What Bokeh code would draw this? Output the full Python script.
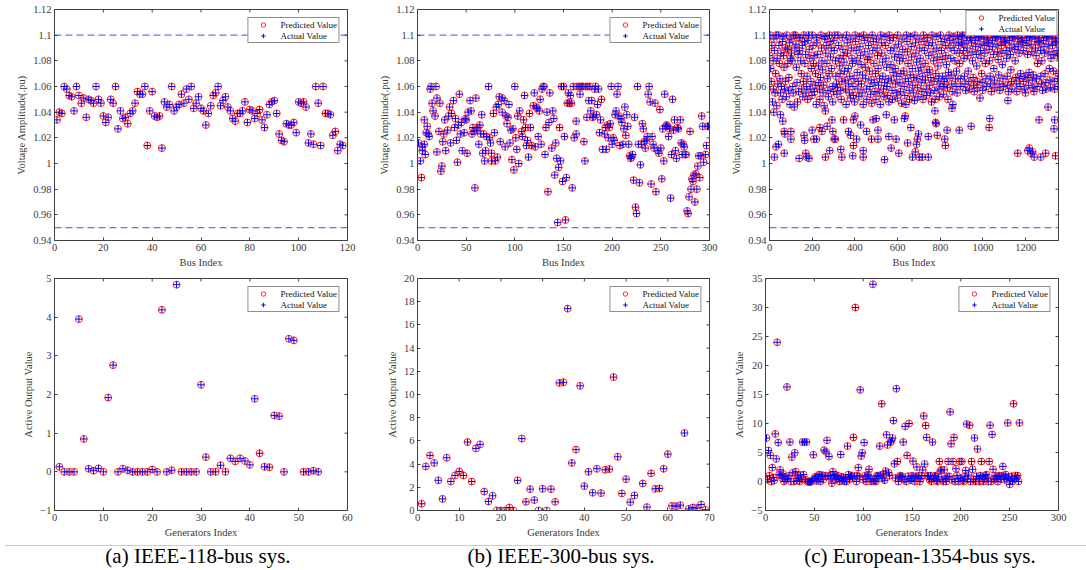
import math
from bokeh.plotting import figure
from bokeh.models import Range1d, FixedTicker, Span, NumeralTickFormatter, Div
from bokeh.layouts import column, row
from bokeh.embed import file_html
from bokeh.resources import INLINE

FONT = "Liberation Serif"
TXT = "#3a3a3a"
LINE = "#404040"
RED = "#ff2a2a"
BLUE = "#0000ff"

# ---------------- data ----------------
V_MAX = 1.1
V_MIN = 0.95

# (a) IEEE-118 bus voltage (bus 1..118)
a_vm = [1.034, 1.040, 1.039, 1.060, 1.058, 1.053, 1.052, 1.041, 1.060, 1.053,
        1.047, 1.051, 1.036, 1.050, 1.049, 1.047, 1.060, 1.050, 1.047, 1.037,
        1.032, 1.036, 1.050, 1.047, 1.060, 1.027, 1.041, 1.035, 1.036, 1.031,
        1.039, 1.041, 1.047, 1.056, 1.054, 1.054, 1.060, 1.014, 1.041, 1.056,
        1.037, 1.036, 1.037, 1.012, 1.048, 1.044, 1.046, 1.060, 1.041, 1.044,
        1.046, 1.054, 1.047, 1.058, 1.050, 1.060, 1.043, 1.047, 1.052, 1.043,
        1.041, 1.030, 1.039, 1.045, 1.053, 1.055, 1.060, 1.045, 1.049, 1.052,
        1.044, 1.041, 1.035, 1.033, 1.039, 1.039, 1.041, 1.048, 1.032, 1.042,
        1.041, 1.035, 1.039, 1.042, 1.034, 1.028, 1.038, 1.046, 1.048, 1.049,
        1.039, 1.023, 1.018, 1.017, 1.031, 1.030, 1.030, 1.032, 1.024, 1.048,
        1.047, 1.048, 1.044, 1.016, 1.023, 1.015, 1.060, 1.047, 1.014, 1.060,
        1.039, 1.039, 1.038, 1.022, 1.025, 1.010, 1.015, 1.014]
a_bus = list(range(1, len(a_vm) + 1))

# (a) IEEE-118 generator output
a_gen = list(range(1, 50)) + [51, 52, 53, 54]
a_pg = [0.13, 0, 0, 0, 3.95, 0.85, 0.08, 0.03, 0.09, 0,
        1.92, 2.76, 0, 0.08, 0.04, 0, 0, 0, 0, 0.06,
        0, 4.19, 0, 0.04, 4.84, 0, 0, 0, 0, 2.25,
        0.38, 0, 0, 0.17, 0, 0.35, 0.27, 0.35, 0.28, 0.18,
        1.89, 0.48, 0.13, 0.12, 1.46, 1.44, 0, 3.44, 3.40,
        0, 0, 0.03, 0]

# (b) IEEE-300 bus voltage
b_bus = [1, 3, 4, 5, 5, 7, 7, 8, 9, 10, 11, 12, 13, 14, 15, 16, 18, 19, 20, 20,
         22, 23, 24, 25, 26, 27, 28, 29, 31, 32, 33, 34, 35, 37, 38, 39, 40, 41, 42, 43,
         44, 45, 46, 48, 49, 50, 51, 52, 54, 55, 56, 57, 58, 59, 60, 61, 62, 63, 64, 65,
         66, 67, 68, 69, 70, 71, 73, 74, 75, 76, 76, 78, 79, 80, 81, 82, 83, 84, 85, 87,
         87, 89, 90, 91, 92, 93, 94, 95, 96, 97, 98, 99, 100, 101, 102, 103, 104, 105, 107, 108,
         109, 110, 111, 112, 113, 114, 115, 116, 117, 119, 120, 121, 122, 123, 124, 125, 126, 127, 128, 129,
         130, 131, 132, 133, 134, 135, 136, 138, 139, 140, 141, 142, 143, 144, 145, 146, 147, 148, 149, 150,
         151, 152, 153, 154, 155, 156, 157, 158, 159, 160, 161, 163, 163, 164, 166, 167, 168, 169, 170, 171,
         172, 173, 174, 175, 176, 177, 178, 179, 180, 181, 182, 183, 184, 185, 186, 187, 188, 189, 190, 192,
         193, 194, 195, 196, 197, 198, 199, 200, 201, 202, 203, 204, 205, 206, 207, 208, 209, 210, 211, 212,
         213, 214, 215, 216, 217, 218, 219, 220, 221, 222, 223, 224, 225, 226, 227, 228, 229, 230, 231, 232,
         233, 234, 235, 236, 237, 238, 239, 240, 241, 242, 243, 244, 245, 247, 248, 249, 250, 251, 252, 253,
         254, 255, 256, 257, 258, 259, 260, 261, 262, 263, 264, 265, 266, 267, 268, 270, 271, 272, 273, 274,
         275, 276, 277, 278, 279, 280, 281, 282, 283, 284, 285, 286, 287, 288, 289, 290, 291, 292, 293, 294,
         296, 297, 298, 299]
b_vm = [1.016, 1.002, 0.989, 1.013, 1.010, 1.015, 1.034, 1.007, 1.024, 1.029, 1.023, 1.021, 1.058, 1.060, 1.047, 1.041, 1.037, 1.060, 1.051, 1.009,
        1.025, 1.047, 0.994, 0.998, 1.017, 1.023, 1.034, 1.010, 1.026, 1.037, 1.044, 1.016, 1.039, 1.049, 1.028, 1.035, 1.018, 1.001, 1.030, 1.054,
        1.023, 1.032, 1.010, 1.024, 1.035, 1.034, 1.008, 1.040, 1.049, 1.041, 1.023, 1.028, 1.025, 0.981, 1.051, 1.026, 1.028, 1.015, 1.030, 1.023,
        1.038, 1.008, 1.023, 1.002, 1.010, 1.021, 1.060, 1.020, 1.016, 1.008, 1.002, 1.039, 1.024, 1.002, 1.044, 1.005, 1.046, 1.052, 1.017, 1.051,
        1.040, 1.049, 1.013, 1.037, 1.031, 1.036, 1.046, 1.016, 1.026, 1.003, 1.027, 0.995, 1.060, 1.020, 1.011, 1.037, 1.000, 1.041, 1.025, 1.021,
        1.034, 1.053, 1.028, 1.014, 1.018, 1.005, 1.039, 1.028, 1.014, 1.045, 1.055, 1.013, 1.044, 1.043, 1.021, 1.041, 1.050, 1.015, 1.058, 1.060,
        1.060, 1.007, 1.028, 1.040, 0.978, 1.032, 1.055, 1.012, 1.041, 1.035, 0.991, 1.016, 1.004, 0.954, 0.997, 1.028, 1.002, 1.060, 0.986, 1.060,
        1.021, 0.956, 0.989, 1.047, 1.055, 1.047, 1.053, 1.047, 0.981, 1.060, 1.020, 1.033, 1.023, 1.060, 1.060, 1.054, 1.060, 1.060, 1.060, 1.017,
        1.002, 1.060, 1.036, 1.060, 1.049, 1.060, 1.041, 1.049, 1.036, 1.037, 1.058, 1.060, 1.038, 1.046, 1.058, 1.024, 1.034, 1.050, 1.011, 1.023,
        1.028, 1.011, 1.030, 1.020, 1.028, 1.031, 1.060, 1.015, 1.020, 1.018, 1.038, 1.041, 1.054, 1.060, 1.037, 1.014, 1.035, 1.032, 1.015, 1.027,
        1.044, 1.022, 1.038, 1.029, 1.015, 1.006, 1.004, 1.005, 1.007, 0.987, 1.036, 0.966, 0.961, 1.060, 1.015, 0.985, 0.999, 1.015, 1.031, 1.027,
        1.017, 1.012, 1.018, 1.021, 1.054, 1.060, 1.048, 0.984, 1.021, 1.015, 1.012, 1.047, 0.978, 1.010, 1.008, 1.042, 1.012, 0.988, 1.027, 1.002,
        1.054, 1.029, 1.030, 1.029, 1.021, 1.027, 0.973, 1.007, 1.050, 1.026, 1.034, 1.010, 1.004, 1.028, 1.027, 1.034, 1.016, 1.007, 1.015, 1.013,
        1.007, 1.007, 0.963, 0.961, 0.974, 1.025, 0.980, 0.988, 0.986, 0.991, 0.970, 0.992, 0.980, 0.998, 1.006, 0.989, 1.006, 1.037, 1.029, 1.001,
        1.007, 1.014, 1.029, 1.029]

# (b) IEEE-300 generator output
b_gen = list(range(1, 53)) + list(range(54, 70))
b_pg = [0.58, 3.8, 4.75, 4.1, 2.6, 1.0, 4.55, 2.5, 3.02, 3.37,
        3.02, 5.9, 2.5, 5.35, 5.7, 1.63, 0.78, 1.27, 0, 0,
        0, 0.26, 0, 2.6, 6.2, 0.75, 1.84, 0.9, 0, 1.87,
        0, 1.84, 0.75, 11.0, 11.05, 17.4, 4.1, 5.25, 10.75, 2.1,
        3.34, 1.53, 3.6, 1.5, 3.51, 3.57, 11.5, 4.63, 1.47, 2.7,
        0.72, 1.3,
        2.33, 0.29, 3.2, 1.87, 1.9, 3.6, 4.86, 0.4, 0.37, 0.46, 6.68, 0.14, 0.26, 0.2, 0.52, 0.06]

# (c) European-1354 bus voltage: dense band
c_band_bus = [
    1, 3, 6, 8, 11, 14, 17, 19,
    21, 23, 26, 29, 31, 34, 36, 39,
    41, 44, 46, 49, 51, 54, 56, 59,
    61, 63, 66, 68, 71, 74, 76, 79,
    81, 84, 86, 89, 91, 94, 96, 99,
    101, 103, 106, 109, 111, 114, 116, 119,
    121, 124, 126, 129, 131, 134, 136, 139,
    141, 143, 146, 149, 151, 154, 156, 159,
    161, 164, 166, 169, 171, 174, 176, 179,
    181, 183, 186, 189, 191, 194, 196, 199,
    201, 204, 206, 209, 211, 214, 216, 219,
    221, 223, 226, 229, 231, 234, 236, 239,
    241, 244, 246, 249, 251, 254, 256, 259,
    261, 264, 266, 269, 271, 274, 276, 279,
    281, 284, 286, 289, 291, 294, 296, 299,
    301, 303, 306, 309, 311, 314, 316, 319,
    321, 324, 326, 329, 331, 334, 336, 339,
    341, 344, 346, 349, 351, 354, 356, 359,
    361, 364, 366, 369, 371, 374, 376, 379,
    381, 383, 386, 389, 391, 394, 396, 399,
    401, 404, 406, 409, 411, 414, 416, 419,
    421, 424, 426, 429, 431, 434, 436, 439,
    441, 444, 446, 449, 451, 454, 456, 459,
    461, 464, 466, 469, 471, 474, 476, 479,
    481, 484, 486, 489, 491, 494, 496, 499,
    501, 504, 506, 509, 511, 514, 516, 519,
    521, 524, 526, 529, 531, 534, 536, 539,
    541, 544, 546, 549, 551, 554, 556, 559,
    561, 564, 566, 569, 571, 574, 576, 579,
    581, 584, 586, 589, 591, 594, 596, 599,
    601, 604, 606, 609, 611, 614, 616, 619,
    621, 624, 626, 629, 631, 634, 636, 639,
    641, 644, 646, 649, 651, 654, 656, 659,
    661, 664, 666, 669, 671, 674, 676, 679,
    681, 684, 686, 689, 691, 694, 696, 699,
    701, 704, 706, 709, 711, 714, 716, 719,
    721, 724, 726, 729, 731, 734, 736, 739,
    741, 744, 746, 749, 751, 754, 756, 759,
    761, 764, 766, 769, 771, 774, 776, 779,
    781, 784, 786, 789, 791, 794, 796, 799,
    801, 804, 806, 809, 811, 814, 816, 819,
    821, 824, 826, 829, 831, 834, 836, 839,
    841, 844, 846, 849, 851, 854, 856, 859,
    861, 864, 866, 869, 871, 874, 876, 879,
    881, 884, 886, 889, 891, 894, 896, 899,
    901, 904, 906, 909, 911, 914, 916, 919,
    921, 924, 926, 929, 931, 934, 936, 939,
    941, 944, 946, 949, 951, 954, 956, 959,
    961, 964, 966, 969, 971, 974, 976, 979,
    981, 984, 986, 989, 991, 994, 996, 999,
    1001, 1004, 1006, 1009, 1011, 1014, 1016, 1019,
    1021, 1024, 1026, 1029, 1031, 1034, 1036, 1039,
    1041, 1044, 1046, 1049, 1051, 1054, 1056, 1059,
    1061, 1064, 1066, 1069, 1071, 1074, 1076, 1079,
    1081, 1084, 1086, 1089, 1091, 1094, 1096, 1099,
    1101, 1104, 1106, 1109, 1111, 1114, 1116, 1119,
    1121, 1124, 1126, 1129, 1131, 1134, 1136, 1139,
    1141, 1144, 1146, 1149, 1151, 1154, 1156, 1159,
    1161, 1164, 1166, 1169, 1171, 1174, 1176, 1179,
    1181, 1184, 1186, 1189, 1191, 1194, 1196, 1199,
    1201, 1204, 1206, 1209, 1211, 1214, 1216, 1219,
    1221, 1224, 1226, 1229, 1231, 1234, 1236, 1239,
    1241, 1244, 1246, 1249, 1251, 1254, 1256, 1259,
    1261, 1264, 1266, 1269, 1271, 1274, 1276, 1279,
    1281, 1284, 1286, 1289, 1291, 1294, 1296, 1299,
    1301, 1304, 1306, 1309, 1311, 1314, 1316, 1319,
    1321, 1324, 1326, 1329, 1331, 1334, 1336, 1339,
    1341, 1343, 1345, 1347, 1349, 1351, 1352, 1353]
c_band_vm = [
    1.084, 1.100, 1.074, 1.064, 1.092, 1.048, 1.080, 1.058,
    1.097, 1.088, 1.055, 1.070, 1.100, 1.045, 1.082, 1.062,
    1.100, 1.092, 1.078, 1.066, 1.055, 1.086, 1.060, 1.050,
    1.095, 1.099, 1.084, 1.075, 1.058, 1.064, 1.090, 1.052,
    1.100, 1.089, 1.078, 1.057, 1.067, 1.094, 1.046, 1.082,
    1.097, 1.086, 1.080, 1.060, 1.055, 1.100, 1.044, 1.090,
    1.100, 1.093, 1.075, 1.063, 1.048, 1.085, 1.056, 1.098,
    1.088, 1.098, 1.080, 1.070, 1.058, 1.092, 1.052, 1.064,
    1.100, 1.095, 1.078, 1.085, 1.055, 1.060, 1.068, 1.050,
    1.096, 1.100, 1.089, 1.082, 1.058, 1.064, 1.074, 1.053,
    1.100, 1.092, 1.078, 1.084, 1.056, 1.061, 1.070, 1.046,
    1.098, 1.094, 1.085, 1.076, 1.063, 1.058, 1.050, 1.067,
    1.100, 1.090, 1.080, 1.073, 1.055, 1.061, 1.045, 1.097,
    1.099, 1.086, 1.092, 1.078, 1.066, 1.057, 1.052, 1.070,
    1.100, 1.095, 1.083, 1.090, 1.074, 1.060, 1.048, 1.056,
    1.096, 1.088, 1.100, 1.080, 1.068, 1.062, 1.054, 1.059,
    1.100, 1.092, 1.082, 1.076, 1.070, 1.057, 1.050, 1.064,
    1.098, 1.089, 1.084, 1.079, 1.072, 1.065, 1.058, 1.046,
    1.100, 1.094, 1.086, 1.074, 1.062, 1.055, 1.068, 1.051,
    1.097, 1.090, 1.082, 1.078, 1.060, 1.053, 1.066, 1.048,
    1.100, 1.095, 1.088, 1.080, 1.071, 1.058, 1.064, 1.052,
    1.099, 1.091, 1.084, 1.077, 1.062, 1.055, 1.069, 1.046,
    1.100, 1.096, 1.087, 1.075, 1.066, 1.058, 1.050, 1.081,
    1.098, 1.092, 1.083, 1.072, 1.060, 1.054, 1.065, 1.047,
    1.100, 1.088, 1.095, 1.078, 1.063, 1.056, 1.070, 1.050,
    1.097, 1.090, 1.084, 1.074, 1.061, 1.055, 1.066, 1.046,
    1.100, 1.094, 1.086, 1.079, 1.068, 1.058, 1.052, 1.063,
    1.099, 1.092, 1.082, 1.075, 1.060, 1.053, 1.066, 1.048,
    1.100, 1.096, 1.088, 1.077, 1.065, 1.057, 1.050, 1.071,
    1.098, 1.090, 1.083, 1.074, 1.062, 1.055, 1.068, 1.051,
    1.100, 1.093, 1.085, 1.080, 1.063, 1.056, 1.070, 1.047,
    1.097, 1.089, 1.082, 1.072, 1.060, 1.053, 1.066, 1.046,
    1.100, 1.095, 1.087, 1.078, 1.064, 1.057, 1.050, 1.069,
    1.099, 1.091, 1.083, 1.074, 1.061, 1.055, 1.067, 1.049,
    1.100, 1.094, 1.086, 1.079, 1.066, 1.059, 1.052, 1.072,
    1.097, 1.090, 1.082, 1.075, 1.063, 1.056, 1.068, 1.050,
    1.100, 1.095, 1.088, 1.078, 1.065, 1.058, 1.053, 1.071,
    1.098, 1.092, 1.084, 1.073, 1.061, 1.055, 1.067, 1.048,
    1.100, 1.094, 1.087, 1.080, 1.064, 1.057, 1.050, 1.070,
    1.099, 1.090, 1.083, 1.076, 1.066, 1.058, 1.052, 1.062,
    1.100, 1.095, 1.088, 1.081, 1.068, 1.060, 1.054, 1.064,
    1.097, 1.092, 1.084, 1.077, 1.066, 1.059, 1.050, 1.071,
    1.100, 1.096, 1.090, 1.082, 1.069, 1.062, 1.056, 1.046,
    1.099, 1.094, 1.088, 1.080, 1.066, 1.060, 1.072, 1.055,
    1.100, 1.097, 1.092, 1.086, 1.078, 1.066, 1.060, 1.094,
    1.099, 1.100, 1.093, 1.088, 1.082, 1.068, 1.062, 1.057,
    1.100, 1.096, 1.090, 1.084, 1.072, 1.064, 1.058, 1.098,
    1.098, 1.100, 1.094, 1.087, 1.080, 1.067, 1.061, 1.056,
    1.100, 1.096, 1.091, 1.085, 1.076, 1.064, 1.059, 1.098,
    1.099, 1.100, 1.093, 1.088, 1.082, 1.070, 1.063, 1.057,
    1.100, 1.097, 1.092, 1.086, 1.078, 1.066, 1.060, 1.094,
    1.098, 1.100, 1.094, 1.089, 1.080, 1.068, 1.062, 1.056,
    1.100, 1.096, 1.091, 1.085, 1.074, 1.065, 1.059, 1.098,
    1.099, 1.100, 1.093, 1.087, 1.081, 1.069, 1.062, 1.057,
    1.100, 1.097, 1.092, 1.086, 1.077, 1.066, 1.060, 1.095,
    1.098, 1.100, 1.094, 1.088, 1.082, 1.068, 1.061, 1.056,
    1.100, 1.096, 1.090, 1.085, 1.073, 1.064, 1.058, 1.098,
    1.099, 1.100, 1.093, 1.089, 1.080, 1.067, 1.062, 1.056,
    1.100, 1.097, 1.091, 1.086, 1.066, 1.060, 1.070, 1.095,
    1.098, 1.100, 1.094, 1.088, 1.064, 1.058, 1.068, 1.055,
    1.100, 1.096, 1.092, 1.085, 1.067, 1.061, 1.071, 1.098,
    1.099, 1.100, 1.093, 1.087, 1.065, 1.059, 1.069, 1.056,
    1.100, 1.097, 1.090, 1.084, 1.066, 1.060, 1.078, 1.095,
    1.098, 1.100, 1.094, 1.088, 1.068, 1.062, 1.080, 1.057,
    1.100, 1.096, 1.091, 1.086, 1.070, 1.063, 1.058, 1.098,
    1.099, 1.100, 1.093, 1.087, 1.074, 1.065, 1.059, 1.082,
    1.100, 1.097, 1.092, 1.085, 1.072, 1.064, 1.058, 1.095,
    1.098, 1.100, 1.094, 1.088, 1.084, 1.066, 1.060, 1.070]

# (c) European-1354 bus voltage: scattered low values
c_sparse_bus = [20, 31, 42, 51, 62, 69, 72, 23, 69, 100,
                100, 139, 162, 165, 170, 174, 185, 200, 208, 220,
                236, 246, 262, 262, 270, 282, 293, 297, 303, 308,
                334, 339, 347, 370, 380, 393, 400, 393, 390, 408,
                427, 439, 439, 455, 478, 485, 500, 508, 508, 539,
                547, 559, 570, 585, 593, 606, 632, 636, 647, 662,
                670, 683, 689, 693, 698, 701, 716, 744, 744, 775,
                778, 781, 786, 821, 824, 832, 855, 889, 945, 986,
                1032, 1029, 1117, 1163, 1210, 1217, 1225, 1233, 1240, 1263,
                1271, 1294, 1305, 1333, 1336, 1340]
c_sparse_vm = [1.040, 1.013, 1.015, 1.038, 1.033, 1.025, 1.023, 1.005, 1.008, 1.019,
               1.025, 1.004, 1.022, 1.018, 1.008, 1.005, 1.004, 1.026, 1.019, 1.019,
               1.028, 1.025, 1.041, 1.005, 1.029, 1.010, 1.034, 1.025, 1.019, 1.019,
               1.011, 1.005, 1.034, 1.025, 1.022, 1.034, 1.037, 1.014, 1.006, 1.019,
               1.030, 1.010, 1.005, 1.025, 1.019, 1.034, 1.035, 1.026, 1.019, 1.003,
               1.038, 1.021, 1.012, 1.034, 1.019, 1.008, 1.035, 1.037, 1.016, 1.028,
               1.005, 1.009, 1.015, 1.019, 1.023, 1.005, 1.005, 1.005, 1.021, 1.041,
               1.032, 1.031, 1.022, 1.019, 1.014, 1.026, 1.043, 1.026, 1.029, 1.051,
               1.035, 1.028, 1.049, 1.008, 1.010, 1.012, 1.008, 1.009, 1.005, 1.034,
               1.005, 1.008, 1.044, 1.027, 1.034, 1.006]

# (c) European-1354 generator output (gen 1..260)
c_pg = [7.5, 0.3, 5.35, 1.0, 4.5, 0.0, 2.4, 0.7, 0.2, 8.2, 3.9, 24.0, 6.7, 1.2, 2.0, 1.0, 0.6, 1.3, 0.0, 0.8,
        0.3, 16.3, 0.5, 1.0, 6.8, 0.0, 4.2, 1.5, 0.0, 4.95, 1.7, 0.2, 1.0, 0.6, 0.0, 1.1, 0.4, 6.8, 1.2, 6.8,
        0.3, 6.8, 0.0, -0.1, 0.0, -0.1, 0.0, 0.2, 4.6, 0.5, 0.8, 0.1, 0.9, 0.4, 1.2, 0.0, 0.9, 1.1, 0.3, 5.4,
        1.0, 5.1, 7.1, 0.9, 4.3, 1.0, 0.5, -0.3, 1.7, 1.2, 0.9, 0.3, 0.8, 1.0, 0.5, 0.0, 4.65, 0.8, 0.2, 0.7,
        0.0, 0.6, 0.0, 6.1, 1.2, 0.4, 0.9, 1.0, 0.6, 7.6, 0.9, 30.0, 0.0, 1.0, 2.4, 0.8, 15.8, 4.4, 4.95, 0.3,
        6.7, 1.0, 0.0, 0.9, 1.2, 2.1, 0.5, 0.0, 0.4, 34.0, 0.0, 0.2, 0.0, 1.0, 0.9, 1.0, 6.1, 1.1, 13.4, 0.5,
        1.3, 0.2, 1.8, 8.05, 6.3, 1.5, 1.0, 6.8, 7.0, 7.5, 10.5, 3.05, 0.6, 16.0, 3.45, 0.0, 0.8, 1.0, 0.7, 0.9,
        6.8, 0.3, 9.5, 0.0, 4.5, 0.9, 10.0, 0.5, 0.2, 1.0, 3.5, 0.8, 0.0, 0.9, 2.5, 0.6, 1.0, 0.0, 0.5, 1.0,
        2.0, 11.3, 3.0, 9.65, 7.6, 1.0, 0.9, 0.3, 1.0, 0.0, 6.8, 0.5, 0.9, 1.0, 0.2, 0.0, 0.8, 3.45, 1.8, 2.0,
        0.3, 0.0, 2.0, 0.5, 0.0, 0.8, 3.45, 0.9, 12.0, 6.5, 0.3, 3.45, 7.6, 0.0, 2.2, 1.0, 0.5, 0.0, 3.45, 0.6,
        3.45, 0.2, 0.0, 0.9, 1.9, 9.9, 0.4, 1.1, 9.7, 0.0, 3.45, 2.1, 0.3, 7.5, 0.0, 0.9, 5.6, 0.5, 0.0, 1.0,
        3.45, 0.8, 0.0, 0.4, 1.0, 1.2, 0.6, 0.0, 3.45, 9.7, 0.0, 8.1, 2.1, 0.3, 1.0, 0.5, 0.8, 0.0, 1.0, 0.9,
        0.4, 1.0, 2.6, 0.9, 0.3, 1.2, 0.5, 10.1, 0.8, -0.5, 0.2, 0.9, 0.0, 13.4, 0.4, 1.0, 0.6, 1.0, 0.0, 10.1]
c_gen = list(range(1, len(c_pg) + 1))

captions = ["(a) IEEE-118-bus sys.", "(b) IEEE-300-bus sys.", "(c) European-1354-bus sys."]

# ---------------- drawing ----------------

def style_axis(ax):
    ax.axis_line_color = LINE
    ax.major_tick_line_color = LINE
    ax.major_tick_in = 3
    ax.major_tick_out = 0
    ax.minor_tick_line_color = None
    ax.major_label_text_font = FONT
    ax.major_label_text_color = TXT
    ax.major_label_text_font_size = "10.5px"
    ax.major_label_standoff = 3
    ax.axis_label_text_font = FONT
    ax.axis_label_text_font_size = "10.5px"
    ax.axis_label_text_color = TXT
    ax.axis_label_text_font_style = "normal"
    ax.axis_label_standoff = 3


def make_fig(width, height, bl, br, bt, bb, xr, yr, xt, yt, xlabel, ylabel,
             xs, ys, legend_margin=8, spans=False, yfmt=None):
    p = figure(width=width, height=height, x_range=Range1d(*xr), y_range=Range1d(*yr),
               output_backend="svg", toolbar_location=None,
               min_border_left=bl, min_border_right=br, min_border_top=bt, min_border_bottom=bb)
    p.background_fill_color = "white"
    p.border_fill_color = "white"
    p.outline_line_color = LINE
    p.xgrid.visible = False
    p.ygrid.visible = False
    p.xaxis.ticker = FixedTicker(ticks=xt)
    p.yaxis.ticker = FixedTicker(ticks=yt)
    if yfmt is not None:
        p.yaxis.formatter = yfmt
    p.xaxis.axis_label = xlabel
    p.yaxis.axis_label = ylabel
    style_axis(p.xaxis[0])
    style_axis(p.yaxis[0])

    # mirrored inward ticks on the top and right edges of the box (half clipped by the frame)
    p.scatter(xt, [yr[1]] * len(xt), marker="dash", angle=math.pi / 2, size=6,
              line_color=LINE, line_width=1)
    p.scatter([xr[1]] * len(yt), yt, marker="dash", size=6, line_color=LINE, line_width=1)

    if spans:
        for loc in (V_MAX, V_MIN):
            p.add_layout(Span(location=loc, dimension="width", line_color="#6f6fff",
                              line_width=1.2, line_dash="7 4", level="underlay"))

    p.scatter(xs, ys, marker="circle", size=7, fill_color=None, line_color=RED,
              line_width=1, legend_label="Predicted Value")
    p.scatter(xs, ys, marker="cross", size=7, line_color=BLUE, line_width=1,
              legend_label="Actual Value")

    lg = p.legend[0]
    lg.location = "top_right"
    lg.margin = legend_margin
    lg.padding = 1
    lg.spacing = 0
    lg.label_text_font = FONT
    lg.label_text_font_size = "9px"
    lg.label_text_color = "#111111"
    lg.label_height = 10
    lg.glyph_height = 11
    lg.glyph_width = 27
    lg.label_standoff = 4
    lg.border_line_color = "#222222"
    lg.border_line_width = 0.8
    lg.background_fill_alpha = 1.0
    return p


vfmt = NumeralTickFormatter(format="0.[00]")
vt = [0.94, 0.96, 0.98, 1.0, 1.02, 1.04, 1.06, 1.08, 1.1, 1.12]

H1, BT1, BB1 = 270, 9, 30
H2, BT2, BB2 = 270, 8, 30

pa1 = make_fig(370, H1, 54, 23, BT1, BB1, (0, 120), (0.94, 1.12), list(range(0, 121, 20)), vt,
               "Bus Index", "Voltage Amplitude(.pu)", a_bus, a_vm, spans=True, yfmt=vfmt)
pb1 = make_fig(358, H1, 47, 19, BT1, BB1, (0, 300), (0.94, 1.12), list(range(0, 301, 50)), vt,
               "Bus Index", "Voltage Amplitude(.pu)", b_bus, b_vm, spans=True, yfmt=vfmt)
pc1 = make_fig(358, H1, 37, 28, BT1, BB1, (0, 1354), (0.94, 1.12), list(range(0, 1201, 200)), vt,
               "Bus Index", "Voltage Amplitude(.pu)", c_band_bus + c_sparse_bus, c_band_vm + c_sparse_vm,
               legend_margin=1, spans=True, yfmt=vfmt)

pa2 = make_fig(370, H2, 54, 23, BT2, BB2, (0, 60), (-1, 5), list(range(0, 61, 10)), list(range(-1, 6)),
               "Generators Index", "Active Output Value", a_gen, a_pg)
pb2 = make_fig(358, H2, 47, 19, BT2, BB2, (0, 70), (0, 20), list(range(0, 71, 10)), list(range(0, 21, 2)),
               "Generators Index", "Active Output Value", b_gen, b_pg)
pc2 = make_fig(358, H2, 37, 28, BT2, BB2, (0, 300), (-5, 35), list(range(0, 301, 50)), list(range(-5, 36, 5)),
               "Generators Index", "Active Output Value", c_gen, c_pg)

centers = [193, 556, 915]
spans_html = "".join(
    f'<span style="position:absolute;left:{c - 170}px;top:-2px;width:340px;text-align:center;">{t}</span>'
    for c, t in zip(centers, captions))
cap = Div(text=(f'<div style="position:relative;width:1086px;height:27px;border-top:1px solid #cccccc;'
                f'font-family:\'Liberation Serif\',serif;font-size:21px;line-height:24px;color:#000;">'
                f'{spans_html}</div>'), width=1086, height=28)

layout = column(row(pa1, pb1, pc1), row(pa2, pb2, pc2), cap)

with open("out.html", "w") as f:
    f.write(file_html(layout, INLINE))
